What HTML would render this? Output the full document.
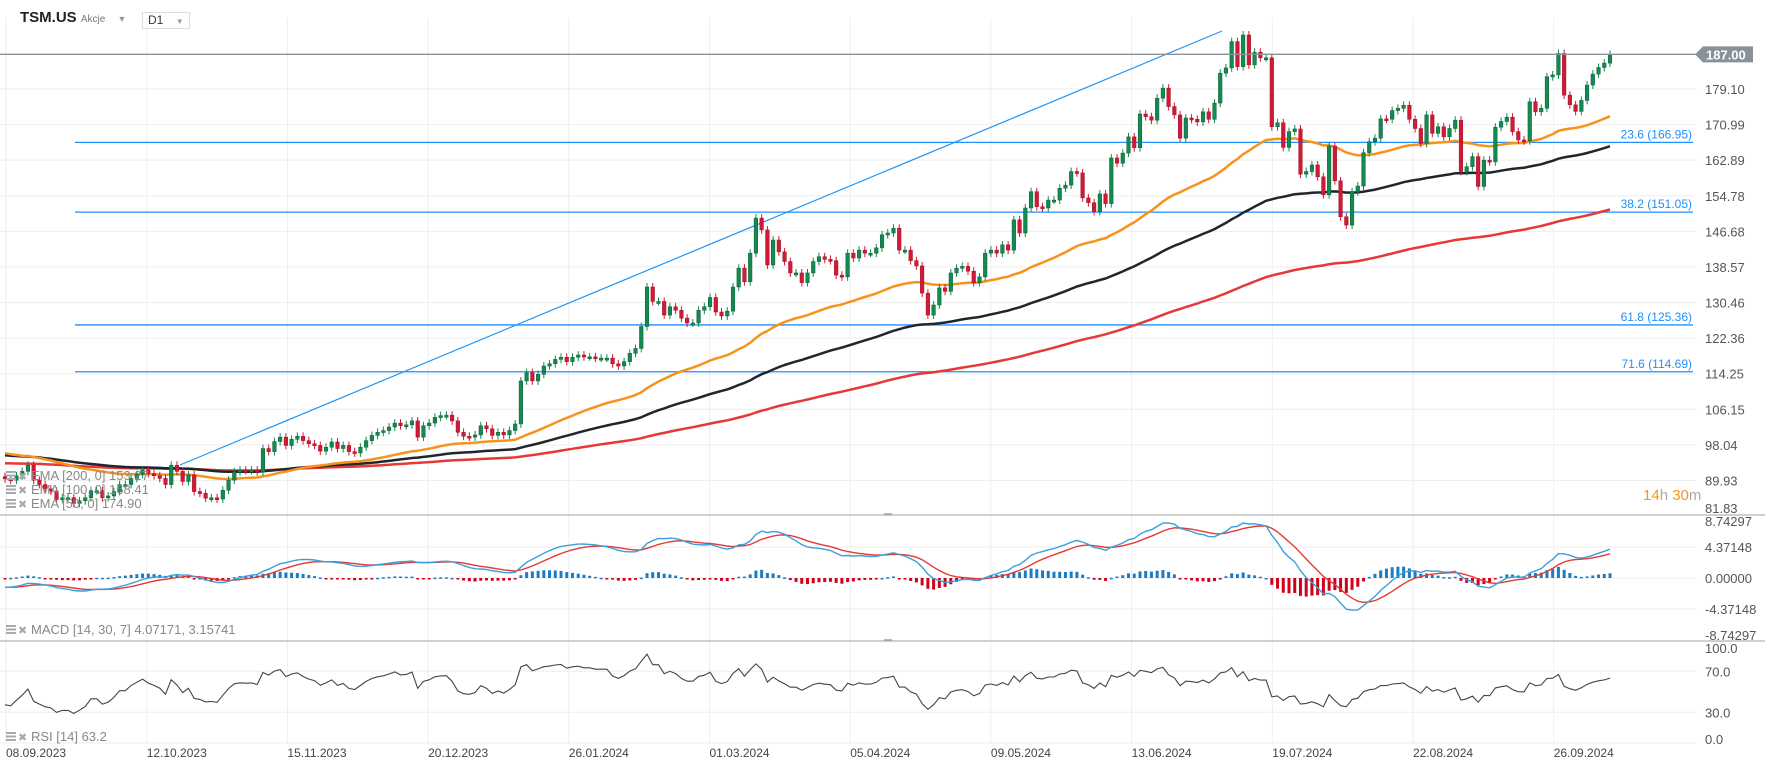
<!DOCTYPE html>
<html><head><meta charset="utf-8">
<style>
html,body{margin:0;padding:0;background:#fff;}
body{width:1765px;height:770px;overflow:hidden;position:relative;font-family:"Liberation Sans",sans-serif;}
svg{position:absolute;left:0;top:0;}
.hdr{position:absolute;font-family:"Liberation Sans",sans-serif;}
</style></head>
<body>
<div class="hdr" style="left:20px;top:9px;font-size:15px;font-weight:bold;color:#222;">TSM.US <span style="font-size:10px;font-weight:normal;color:#777;">Akcje</span> <span style="font-size:9px;color:#999;margin-left:8px;">▼</span></div>
<div class="hdr" style="left:142px;top:12px;width:41px;height:15px;border:1px solid #ddd;font-size:12px;color:#333;line-height:15px;padding-left:5px;box-sizing:content-box;">D1 <span style="font-size:8px;color:#999;margin-left:9px;">▼</span></div>
<svg id="chart" width="1765" height="770"></svg>
<script>
const dateLabels=["08.09.2023","12.10.2023","15.11.2023","20.12.2023","26.01.2024","01.03.2024","05.04.2024","09.05.2024","13.06.2024","19.07.2024","22.08.2024","26.09.2024"];
const priceTicks=[187.00,179.10,170.99,162.89,154.78,146.68,138.57,130.46,122.36,114.25,106.15,98.04,89.93,81.83];
const fibLevels=[166.95,151.05,125.36,114.69];
const fibNames=["23.6","38.2","61.8","71.6"];
const macdTicks=[8.74297,4.37148,0,-4.37148,-8.74297];
const rsiTicks=[100,70,30,0];
const closes=[90.3,90,91,92,93.4,90,89,88,87.5,85.6,
86,86,84.7,85.3,86,87.6,87.6,86,86.4,87.4,
89,89,90.4,91.3,92.3,91.5,91,90.4,89,93.4,
92,89.7,91.2,87.4,87,85.9,86,85.7,87.7,90,
91.9,92.3,92.2,92.3,91.9,97.2,96.5,98.8,99.8,97.9,
99.3,100,99,98.3,97.9,96.6,97.5,98.7,97.2,97.9,
96.5,96.2,97.5,99,100.2,100.9,101.3,102.1,103,102.4,
102.6,103.5,99.8,102.4,103,104.3,104.7,104.8,103.5,100.9,
100,99.8,100.3,102.4,101.7,100.2,100.9,100.3,101.3,102.8,
112.6,114.5,112.6,114.1,116,116.5,117.5,118,117,118,118.5,
118.1,118.1,117.8,117.8,117.8,116.5,116,117,
118.9,120,125,134,130.7,130.7,127.6,129.5,128.7,126.9,
125.8,125.8,128.7,129.5,131.6,128.3,127.4,128.5,134,138.3,
135.2,141.7,149.7,147,139,144.7,142,139.8,137.2,137.2,
135,137.2,139.8,140.9,140.3,140,136.7,136.3,141.7,140.6,
142.4,141.7,141.7,142.9,145.9,146.3,147.4,142.4,142.4,140,
138.8,132.6,127.6,129.9,133.8,133,137.2,138.3,138.7,137.6,
135,136.3,141.7,142.4,141.7,
143.6,142.4,149.3,146.3,152,155.7,152.3,152,153.8,153.8,
156.5,157.2,160.3,160,154.3,153.2,151.2,155.2,153,163.4,
162.2,164.5,168.2,165.7,173.4,172.8,172,177,179.3,175.1,
173.2,167.9,172.5,172.2,171.6,173.9,172.2,175.9,182.7,183.9,
189.9,184.2,191.4,184.6,187.5,186.2,186.2,170.5,171.4,165.8,
169.4,170,159.7,160.3,161.8,159.1,155,166.1,158.2,150,
148.1,155.7,157,164.6,167.1,167.9,172.3,172.2,174.2,174.7,
175.4,172.2,
170.1,166.7,173.2,169,170.5,168.2,170.1,172,160.3,161.4,
163.7,156.9,162.9,162.5,170.4,171.7,172.7,169.4,167.5,167.3,
176.2,173.9,174.7,181.9,182.3,187.2,177.7,
175.5,174,176.5,180,182.5,184,185,187];
const firstOpen=90.8;

const NS="http://www.w3.org/2000/svg";
const svg=document.getElementById('chart');
const N=closes.length;
const PLOT_R=1697;
function X(i){return 5+i*(1605/(N-1));}
function Y(p){return 89+(179.10-p)*4.39;}
function YM(v){return 578-v*7.1;}
function YR(v){return 743-v*1.025;}
function mk(tag,attrs,parent){const e=document.createElementNS(NS,tag);for(const k in attrs)e.setAttribute(k,attrs[k]);(parent||svg).appendChild(e);return e;}
function txt(s,x,y,attrs){const t=mk('text',Object.assign({x:x,y:y,'font-family':'Liberation Sans, sans-serif'},attrs));t.textContent=s;return t;}

const grid=mk('g',{});


dateLabels.forEach((d,k)=>{
  const gx=6+140.7*k;
  const l=mk('line',{x1:gx,y1:18,x2:gx,y2:743,stroke:'#eeeeee','stroke-width':1},grid);
  
  
  const t=txt(d,gx,757,{'font-size':12,fill:'#444'});
  
  
});
priceTicks.forEach((p,k)=>{
  const y=Y(p);
  if(k>0&&k<priceTicks.length-1){
    const l=mk('line',{x1:0,y1:y,x2:PLOT_R,y2:y,stroke:'#eeeeee','stroke-width':1},grid);
    
    
  }
  if(k>0){
    const t=txt(p.toFixed(2),1705,Math.min(y+5,513),{'font-size':13,fill:'#555'});
    
    
  }
});
macdTicks.forEach((v,k)=>{
  const y=YM(v);
  if(k>0&&k<4){
    const l=mk('line',{x1:0,y1:y,x2:PLOT_R,y2:y,stroke:'#eeeeee','stroke-width':1},grid);
    
    
  }
  const ty=k==0?526:(k==4?640:y+5);
  const t=txt(v.toFixed(5),1705,ty,{'font-size':13,fill:'#555'});
  
  
});
rsiTicks.forEach((v,k)=>{
  const y=YR(v);
  if(k>0){
    const l=mk('line',{x1:0,y1:y,x2:PLOT_R,y2:y,stroke:'#eeeeee','stroke-width':1},grid);
    
    
  }
  const ty=k==0?653:(k==3?744:y+5);
  const t=txt(v.toFixed(1),1705,ty,{'font-size':13,fill:'#555'});
  
  
});
[515,641].forEach(y=>{
  const l=mk('line',{x1:0,y1:y,x2:1765,y2:y,stroke:'#d0d0d0','stroke-width':2});
  
  
  const m=mk('line',{x1:884,y1:y-1,x2:892,y2:y-1,stroke:'#777','stroke-width':1});
  
  
});

const fibG=mk('g',{});


fibLevels.forEach((p,k)=>{
  const y=Y(p);
  const l=mk('line',{x1:75,y1:y,x2:PLOT_R-4,y2:y,stroke:'#1e90ff','stroke-width':1.3},fibG);
  
  
  const t=txt(fibNames[k]+' ('+p.toFixed(2)+')',1692,y-4,{'font-size':12,fill:'#1e90ff','text-anchor':'end'});
  fibG.appendChild(t);
  
  
});
const tl=mk('line',{x1:180,y1:465,x2:1222,y2:31,stroke:'#2196f3','stroke-width':1.2},fibG);



function ema(arr,n,seed){const a=2/(n+1);let v=seed;return arr.map(c=>(v=v+a*(c-v)));}
const e200=ema(closes,200,93.9),e100=ema(closes,100,95.8),e50=ema(closes,50,96.4);
function poly(vals,yf){return vals.map((v,i)=>X(i).toFixed(1)+','+yf(v).toFixed(1)).join(' ');}
[[e200,'#e53935','ema-200-line'],[e100,'#1f272d','ema-100-line'],[e50,'#f7931a','ema-50-line']].forEach(([arr,col,name])=>{
  const p=mk('polyline',{points:poly(arr,Y),fill:'none',stroke:col,'stroke-width':2.5,'stroke-linejoin':'round'});
  
  
});

const cg=mk('g',{});


for(let i=0;i<N;i++){
  const o=i?closes[i-1]:firstOpen,c=closes[i];
  const up=c>=o, col=up?'#138a50':'#d11a35';
  const x=X(i);
  const hi=Math.max(o,c)+0.9, lo=Math.min(o,c)-0.9;
  const w=mk('line',{x1:x,y1:Y(hi),x2:x,y2:Y(lo),stroke:col,'stroke-width':1},cg);
  
  
  const top=Y(Math.max(o,c)),h=Math.max(2,Math.abs(Y(o)-Y(c)));
  const r=mk('rect',{x:x-1.8,y:top,width:3.6,height:h,fill:col,stroke:up?'#0d5e37':'#9e1125','stroke-width':0.5},cg);
  
  
}

const py=Y(187);
const pl=mk('line',{x1:0,y1:py,x2:1698,y2:py,stroke:'#89929a','stroke-width':1.3});


const pb=mk('path',{d:'M1695,'+py+' L1703,'+(py-8)+' L1753,'+(py-8)+' L1753,'+(py+8)+' L1703,'+(py+8)+' Z',fill:'#89929a'});


const pt=txt('187.00',1706,py+5,{'font-size':13,'font-weight':'bold',fill:'#fff'});



const e14=ema(closes,14,90.6),e30=ema(closes,30,92.0);
const macd=e14.map((v,i)=>v-e30[i]);
const signal=ema(macd,7,-1.3);
const mg=mk('g',{});


for(let i=0;i<N;i++){
  const h=macd[i]-signal[i];
  const y0=YM(0),y1=YM(h);
  const r=mk('rect',{x:X(i)-1.5,y:Math.min(y0,y1),width:3,height:Math.max(1.5,Math.abs(y1-y0)),fill:h>=0?'#1a7cc4':'#d0021b'},mg);
  
  
}
const ms=mk('polyline',{points:poly(signal,YM),fill:'none',stroke:'#e53935','stroke-width':1.4},mg);


const ml=mk('polyline',{points:poly(macd,YM),fill:'none',stroke:'#3aa0dc','stroke-width':1.4},mg);



let ag=0.35,al=0.55;const rsi=[];
for(let i=0;i<N;i++){
  const d=closes[i]-(i?closes[i-1]:firstOpen);
  ag=(ag*13+Math.max(d,0))/14; al=(al*13+Math.max(-d,0))/14;
  rsi.push(100-100/(1+ag/al));
}
const rl=mk('polyline',{points:poly(rsi,YR),fill:'none',stroke:'#444','stroke-width':1.1});



function legend(label,y,name){
  const g=mk('g',{});
  
  
  for(let k=0;k<3;k++)mk('rect',{x:6,y:y-9+k*3.5,width:10,height:2,fill:'#aaa'},g);
  const x=txt('✖',18,y,{'font-size':11,fill:'#aaa'});g.appendChild(x);
  const t=txt(label,31,y,{'font-size':13,fill:'#888'});g.appendChild(t);
}
legend('EMA  [200,  0]  153.27',480,'ema-200-legend');
legend('EMA  [100,  0]  168.41',494,'ema-100-legend');
legend('EMA  [50,  0]  174.90',508,'ema-50-legend');
legend('MACD  [14,  30,  7]  4.07171,  3.15741',634,'macd-legend');
legend('RSI  [14]  63.2',741,'rsi-legend');

const cd=mk('text',{x:1643,y:500,'font-family':'Liberation Sans, sans-serif','font-size':15});


cd.innerHTML='<tspan fill="#f7931a">14</tspan><tspan fill="#aaa">h </tspan><tspan fill="#f7931a">30</tspan><tspan fill="#aaa">m</tspan>';
</script>
</body></html>
